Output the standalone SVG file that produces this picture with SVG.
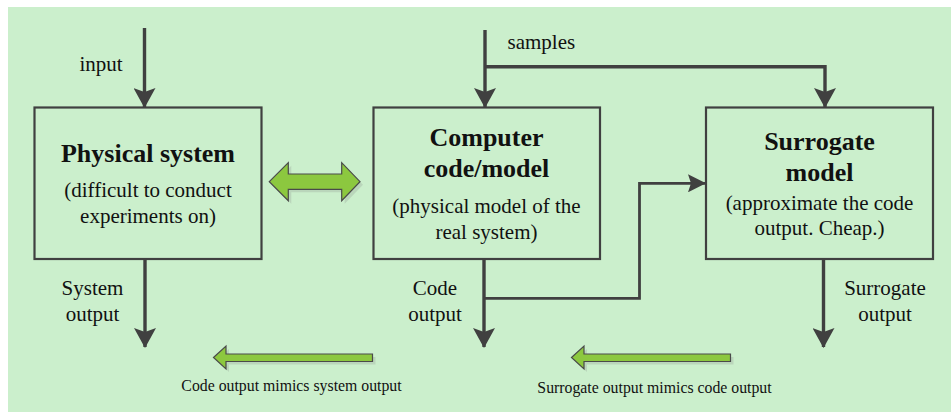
<svg xmlns="http://www.w3.org/2000/svg" width="951" height="412" viewBox="0 0 951 412" font-family="Liberation Serif, Times New Roman, serif">
  <style>
    .box { fill: #cbefcc; stroke: #404040; stroke-width: 2.2; }
    .conn { fill: none; stroke: #404040; stroke-width: 3.4; }
    .thin { fill: none; stroke: #404040; stroke-width: 2.8; }
    .t { fill: #111; text-anchor: middle; }
    .title { font-size: 26px; font-weight: bold; }
    .sub { font-size: 21px; }
    .lbl { font-size: 21px; }
    .small { font-size: 15.8px; }
    .garrow { fill: #8cc83f; stroke: #4a4a4a; stroke-width: 1.2; }
    .gshadow { fill: #9aaa9a; opacity: 0.35; }
  </style>
  <defs>
    <marker id="ah" markerUnits="userSpaceOnUse" viewBox="0 0 20 22" refX="19" refY="11" markerWidth="20" markerHeight="22" orient="auto">
      <path d="M0,0 L20,11 L0,22 L4,11 Z" fill="#404040"/>
    </marker>
    <marker id="ahs" markerUnits="userSpaceOnUse" viewBox="0 0 18 18" refX="17" refY="9" markerWidth="18" markerHeight="18" orient="auto">
      <path d="M0,0 L18,9 L0,18 L3,9 Z" fill="#404040"/>
    </marker>
  </defs>

  <rect x="8" y="7" width="943" height="405" fill="#cbefcc"/>

  <g id="physical-system">
    <rect class="box" x="34.5" y="107.5" width="227" height="151.5"/>
    <text class="t title" x="148" y="162">Physical system</text>
    <text class="t sub" x="148" y="197">(difficult to conduct</text>
    <text class="t sub" x="148" y="223">experiments on)</text>
  </g>

  <g id="computer-code">
    <rect class="box" x="373.5" y="107.5" width="226.5" height="151.5"/>
    <text class="t title" x="486.5" y="146">Computer</text>
    <text class="t title" x="486.5" y="177">code/model</text>
    <text class="t sub" x="486.5" y="213">(physical model of the</text>
    <text class="t sub" x="486.5" y="238.5">real system)</text>
  </g>

  <g id="surrogate-model">
    <rect class="box" x="706" y="107.5" width="227" height="151.5"/>
    <text class="t title" x="819.5" y="150">Surrogate</text>
    <text class="t title" x="819.5" y="181">model</text>
    <text class="t sub" x="819.5" y="209.5">(approximate the code</text>
    <text class="t sub" x="819.5" y="235">output. Cheap.)</text>
  </g>

  <g id="connectors">
    <line class="conn" x1="144.5" y1="28" x2="144.5" y2="107" marker-end="url(#ah)"/>
    <line class="conn" x1="485" y1="30" x2="485" y2="107" marker-end="url(#ah)"/>
    <polyline class="conn" points="485,66.7 825,66.7 825,107" marker-end="url(#ah)"/>
    <line class="conn" x1="145" y1="259" x2="145" y2="347" marker-end="url(#ah)"/>
    <line class="conn" x1="484" y1="259" x2="484" y2="347" marker-end="url(#ah)"/>
    <polyline class="thin" points="484,298.3 639.5,298.3 639.5,183.3 705,183.3" marker-end="url(#ahs)"/>
    <line class="conn" x1="823.5" y1="259" x2="823.5" y2="347" marker-end="url(#ah)"/>
  </g>

  <g id="labels">
    <text class="t lbl" x="101" y="71">input</text>
    <text class="t lbl" x="507.5" y="48.5" style="text-anchor:start">samples</text>
    <text class="t lbl" x="92.5" y="295">System</text>
    <text class="t lbl" x="92.5" y="321">output</text>
    <text class="t lbl" x="435" y="295">Code</text>
    <text class="t lbl" x="435" y="321">output</text>
    <text class="t lbl" x="885" y="295">Surrogate</text>
    <text class="t lbl" x="885" y="321">output</text>
  </g>

  <g id="equivalence-arrow">
    <polygon class="gshadow" transform="translate(3,3)" points="269.3,181.7 288.3,162.7 288.3,174 341.7,174 341.7,162.7 360,181.7 341.7,200.7 341.7,189.3 288.3,189.3 288.3,200.7"/>
    <polygon class="garrow" points="269.3,181.7 288.3,162.7 288.3,174 341.7,174 341.7,162.7 360,181.7 341.7,200.7 341.7,189.3 288.3,189.3 288.3,200.7"/>
  </g>

  <g id="mimic-arrow-1">
    <polygon class="gshadow" transform="translate(3,3)" points="213.5,357.5 226,346 226,354 372.5,354 372.5,361.5 226,361.5 226,369"/>
    <polygon class="garrow" points="213.5,357.5 226,346 226,354 372.5,354 372.5,361.5 226,361.5 226,369"/>
    <text class="t small" x="291.5" y="391">Code output mimics system output</text>
  </g>

  <g id="mimic-arrow-2">
    <polygon class="gshadow" transform="translate(3,3)" points="571.5,357.5 584,346 584,354 730.5,354 730.5,361.5 584,361.5 584,369"/>
    <polygon class="garrow" points="571.5,357.5 584,346 584,354 730.5,354 730.5,361.5 584,361.5 584,369"/>
    <text class="t small" x="654.5" y="392.5">Surrogate output mimics code output</text>
  </g>
</svg>
